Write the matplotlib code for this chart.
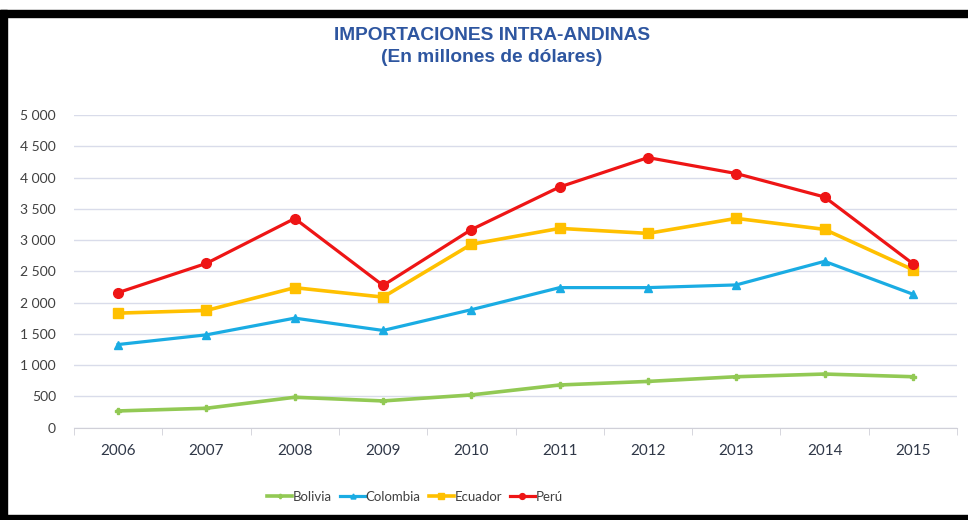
import matplotlib
matplotlib.use("Agg")
import matplotlib.pyplot as plt
from matplotlib.patches import Rectangle
from matplotlib.ticker import FuncFormatter
import numpy as np

# data (millones de dólares)
years = ["2006", "2007", "2008", "2009", "2010", "2011", "2012", "2013", "2014", "2015"]
bolivia = [268, 311, 487, 428, 524, 683, 740, 815, 858, 815]
colombia = [1330, 1485, 1752, 1555, 1887, 2240, 2240, 2283, 2660, 2135]
ecuador = [1832, 1875, 2239, 2088, 2933, 3187, 3107, 3347, 3171, 2527]
peru = [2160, 2628, 3345, 2275, 3168, 3849, 4319, 4064, 3689, 2623]

series = [
    ("Bolivia", bolivia, "#92C954", "P", 5, 2.6),
    ("Colombia", colombia, "#1AACE3", "^", 6, 2.3),
    ("Ecuador", ecuador, "#FFC000", "s", 6.5, 2.6),
    ("Perú", peru, "#EE1515", "o", 7, 2.3),
]

fig = plt.figure(figsize=(9.68, 5.2), dpi=100)
ax = fig.add_axes([74 / 968, 1 - 427.7 / 520, 883 / 968, (427.7 - 115) / 520])

x = np.arange(len(years))
for name, vals, col, mk, ms, lw in series:
    ax.plot(x, vals, color=col, lw=lw, marker=mk, ms=ms, mec=col, mfc=col,
            label=name, solid_joinstyle="round", zorder=3)

ax.set_xlim(-0.5, len(years) - 0.5)
ax.set_ylim(0, 5000)
ax.set_yticks(np.arange(0, 5001, 500))
ax.yaxis.set_major_formatter(FuncFormatter(lambda v, p: f"{int(v):,}".replace(",", " ")))
ax.set_xticks(x)
ax.set_xticklabels(years)
ax.set_xticks(np.arange(-0.5, len(years), 1), minor=True)
ax.grid(axis="y", color="#D9DCEA", lw=1)
ax.set_axisbelow(True)
for s in ["top", "right", "left"]:
    ax.spines[s].set_visible(False)
ax.spines["bottom"].set_color("#D0D0D8")
ax.tick_params(axis="y", length=0, pad=13, labelsize=10, labelcolor="#404040")
ax.tick_params(axis="x", which="major", length=0, pad=12, labelsize=11, labelcolor="#303848")
ax.tick_params(axis="x", which="minor", length=5, color="#D0D0D8")
for lab in ax.get_xticklabels() + ax.get_yticklabels():
    lab.set_family("Lato")

fig.text(492 / 968, 1 - 35 / 520, "IMPORTACIONES INTRA-ANDINAS", ha="center", va="center",
         fontsize=13.8, fontweight="bold", color="#2E56A0", family="Liberation Sans")
fig.text(492 / 968, 1 - 57 / 520, "(En millones de dólares)", ha="center", va="center",
         fontsize=13.8, fontweight="bold", color="#2E56A0", family="Liberation Sans")

leg = fig.legend(loc="center", bbox_to_anchor=(415 / 968, 1 - 497 / 520), ncol=4, frameon=False,
                 prop={"family": "Lato", "size": 9.5}, handlelength=1.9, handletextpad=0.05,
                 columnspacing=0.6, markerscale=0.6)
for t in leg.get_texts():
    t.set_color("#404040")

# black frame around the screenshot (top, left, bottom)
fig.patches.append(Rectangle((0, 1 - 17 / 520), 1, 7 / 520, transform=fig.transFigure,
                             color="black", zorder=10))
fig.patches.append(Rectangle((0, 0), 7 / 968, 1 - 10 / 520, transform=fig.transFigure,
                             color="black", zorder=10))
fig.patches.append(Rectangle((0, 0), 1, 5 / 520, transform=fig.transFigure,
                             color="black", zorder=10))

fig.savefig("out.png", dpi=100, facecolor="white")
